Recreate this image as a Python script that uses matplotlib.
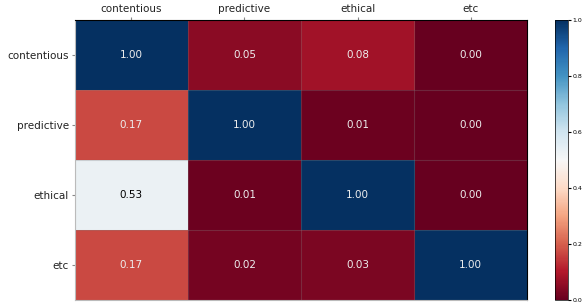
import matplotlib
matplotlib.use("Agg")
import matplotlib.pyplot as plt
import numpy as np

labels = ["contentious", "predictive", "ethical", "etc"]
row_contentious = [1.00, 0.05, 0.08, 0.00]
row_predictive = [0.17, 1.00, 0.01, 0.00]
row_ethical = [0.53, 0.01, 1.00, 0.00]
row_etc = [0.17, 0.02, 0.03, 1.00]
matrix = np.array([row_contentious, row_predictive, row_ethical, row_etc])

fig = plt.figure(figsize=(5.85, 3.06), dpi=100)
ax = fig.add_axes([0.128, 0.0196, 0.773, 0.915])
cax = fig.add_axes([0.948, 0.0196, 0.023, 0.915])

im = ax.imshow(matrix, cmap="RdBu", vmin=0, vmax=1, aspect="auto")
ax.set_xticks(range(len(labels)))
ax.set_yticks(range(len(labels)))
ax.set_xticklabels(labels, fontsize=7.5, color="#222222")
ax.set_yticklabels(labels, fontsize=7.5, color="#222222")
ax.xaxis.tick_top()
ax.tick_params(length=2.5, pad=2, color="#888888")
for i in range(matrix.shape[0]):
    for j in range(matrix.shape[1]):
        v = matrix[i, j]
        c = "black" if 0.3 < v < 0.7 else "#eeeeee"
        ax.text(j, i, f"{v:.2f}", ha="center", va="center", color=c, fontsize=7.5)
for s in ["left", "bottom"]:
    ax.spines[s].set_color("#bbbbbb")
ax.set_xticks(np.arange(-0.5, 4, 1), minor=True)
ax.set_yticks(np.arange(-0.5, 4, 1), minor=True)
ax.grid(which="minor", color="gray", alpha=0.3, linewidth=0.8)
ax.grid(which="major", visible=False)
ax.tick_params(which="minor", length=0)

cb = fig.colorbar(im, cax=cax)
cb.ax.tick_params(labelsize=4.5, length=2, pad=1)
cb.set_ticks([0, 0.2, 0.4, 0.6, 0.8, 1.0])
cb.outline.set_linewidth(0.5)

fig.savefig("out.png", dpi=100)
